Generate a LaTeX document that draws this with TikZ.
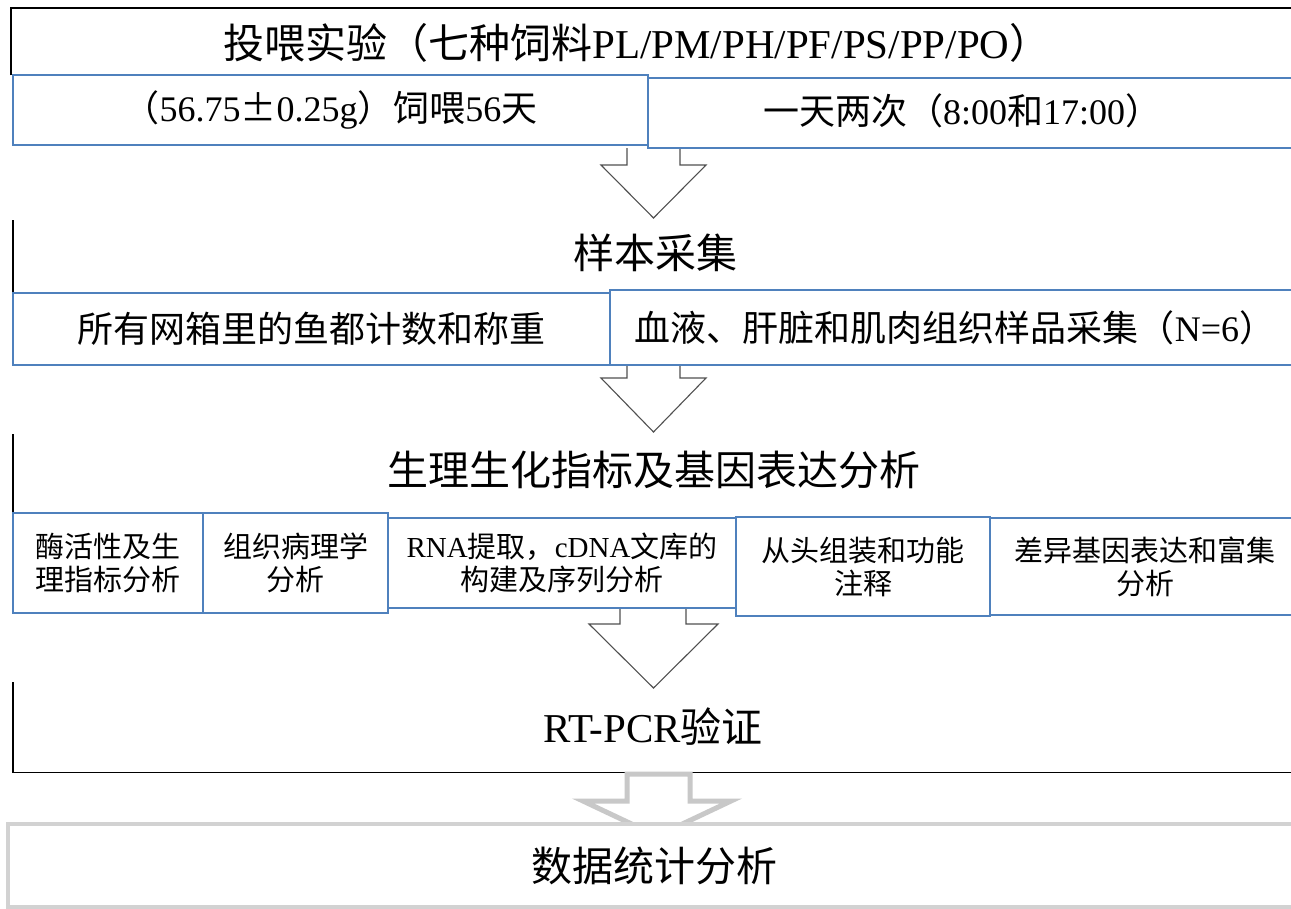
\documentclass[tikz,border=0pt]{standalone}
\usepackage{fontspec}
\setmainfont{Liberation Serif}
\newfontfamily\cjk{Noto Sans CJK SC}
\newcommand\zh[1]{{\cjk #1}}
\newcommand\ftitle{\fontsize{41}{45}\selectfont}
\newcommand\fsub{\fontsize{36}{40}\selectfont}
\newcommand\fsmall{\fontsize{29}{33}\selectfont}
\definecolor{subblue}{HTML}{4F81BD}
\definecolor{arrgray}{HTML}{505050}
\definecolor{lightgray2}{HTML}{C8C8C8}
\definecolor{boxgray}{HTML}{D2D2D2}
\begin{document}
\begin{tikzpicture}[x=1pt,y=-1pt,
  sub/.style={draw=subblue, line width=1.6pt, fill=white, inner sep=0pt, align=center},
  stageline/.style={draw=black, line width=1.2pt},
  stagebox/.style={draw=none, inner sep=0pt, anchor=north west},
  blk/.style={draw=arrgray, line width=1.1pt, fill=white, line join=miter},
  gblk/.style={draw=lightgray2, line width=5pt, fill=white, line join=miter},
  ttl/.style={inner sep=0pt, font=\ftitle},
  txt/.style={inner sep=0pt, font=\fsub}]
\clip (0,0) rectangle (1291,908);
\useasboundingbox (0,0) rectangle (1291,908);
\fill[white] (0,0) rectangle (1291,908);

% stage boxes (only their visible edges are drawn)
\node[stagebox, minimum width=1289, minimum height=67] (st1) at (11,8) {};
\draw[stageline] (st1.south west) -- (st1.north west) -- (st1.north east);
\node[stagebox, minimum width=1287, minimum height=75] (st2) at (13,220) {};
\draw[stageline] (st2.north west) -- (st2.south west);
\node[stagebox, minimum width=1287, minimum height=80] (st3) at (13,434) {};
\draw[stageline] (st3.north west) -- (st3.south west);
\node[stagebox, minimum width=1287, minimum height=90] (st4) at (13,682) {};
\draw[stageline] (st4.north west) -- (st4.south west) -- (st4.south east);

% block arrows (connectors between stages)
\draw[blk] (627,148) -- (627,165) -- (601,165) -- (653.5,218) -- (706,165) -- (680,165) -- (680,148);
\draw[blk] (627,365) -- (627,378) -- (601,378) -- (653.5,432) -- (706,378) -- (680,378) -- (680,365);
\draw[blk] (620,608) -- (620,624) -- (589,624) -- (653.5,688) -- (718,624) -- (686,624) -- (686,608);
\draw[gblk] (627,774) -- (627,801) -- (583,801) -- (657,836) -- (731,801) -- (690,801) -- (690,774) -- cycle;

% titles
\node[ttl] (t1) at (637,43) {\zh{投喂实验（七种饲料}PL/PM/PH/PF/PS/PP/PO\zh{）}};
\node[ttl] (t2) at (655,253) {\zh{样本采集}};
\node[ttl] (t3) at (654,470) {\zh{生理生化指标及基因表达分析}};
\node[ttl] (t4) at (653,727) {RT-PCR\zh{验证}};

% stage 1 sub boxes
\node[sub, minimum width=635, minimum height=70, font=\fsub] (s11) at (330.5,110) {\zh{（}56.75\zh{±}0.25g\zh{）饲喂}56\zh{天}};
\node[sub, minimum width=652, minimum height=70] (s12) at (974,113) {};
\node[txt] (s12t) at (962,111) {\zh{一天两次（}8:00\zh{和}17:00\zh{）}};

% stage 2 sub boxes
\node[sub, minimum width=597, minimum height=72, font=\fsub] (s21) at (311.5,329) {\zh{所有网箱里的鱼都计数和称重}};
\node[sub, minimum width=690, minimum height=75, font=\fsub] (s22) at (955,327.5) {\zh{血液、肝脏和肌肉组织样品采集（}N=6\zh{）}};

% stage 3 sub boxes
\node[sub, minimum width=190, minimum height=100, font=\fsmall] (r1) at (108,563) {\zh{酶活性及生}\\\zh{理指标分析}};
\node[sub, minimum width=185, minimum height=100, font=\fsmall] (r2) at (295.5,563) {\zh{组织病理学}\\\zh{分析}};
\node[sub, minimum width=348, minimum height=90, font=\fsmall] (r3) at (562,563) {RNA\zh{提取，}cDNA\zh{文库的}\\\zh{构建及序列分析}};
\node[sub, minimum width=310, minimum height=97, font=\fsmall] (r5) at (1145,566.5) {\zh{差异基因表达和富集}\\\zh{分析}};
\node[sub, minimum width=254, minimum height=99, font=\fsmall] (r4) at (863,566.5) {\zh{从头组装和功能}\\\zh{注释}};

% final box
\node[draw=boxgray, line width=4pt, fill=white, minimum width=1292, minimum height=83, inner sep=0pt, font=\ftitle] (st5) at (654,865.5) {\zh{数据统计分析}};
\end{tikzpicture}
\end{document}
